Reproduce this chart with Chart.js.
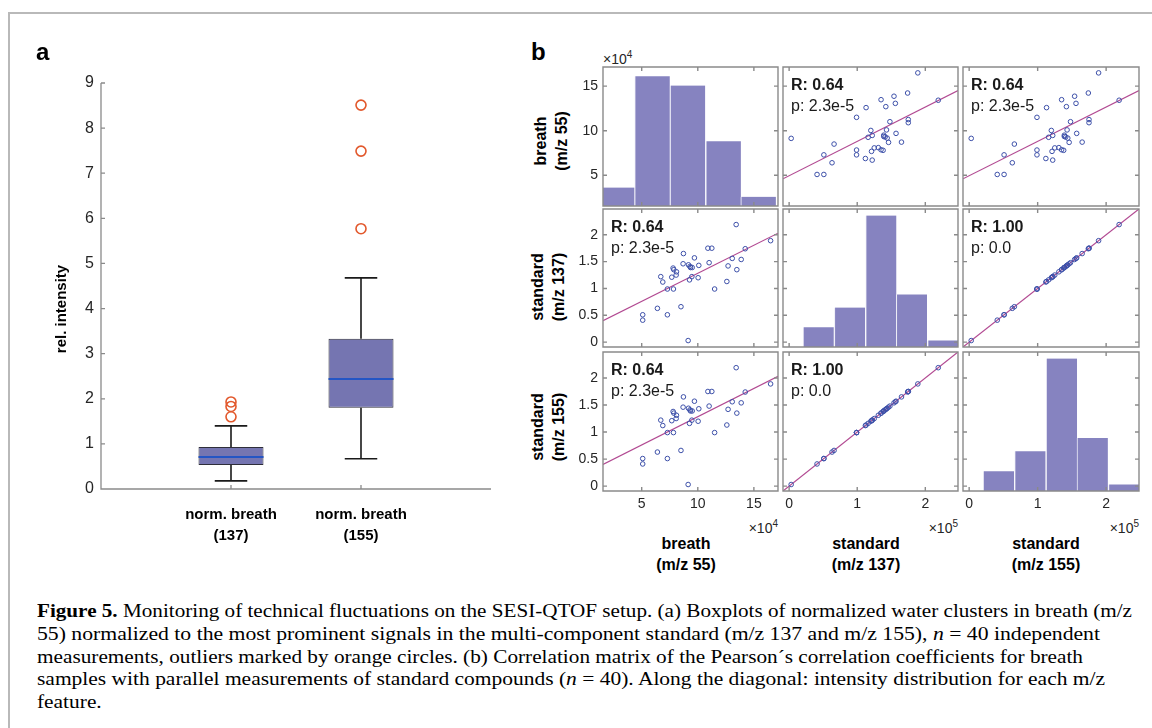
<!DOCTYPE html>
<html>
<head>
<meta charset="utf-8">
<title>Figure 5</title>
<script src="https://cdn.jsdelivr.net/npm/chart.js@4.4.1/dist/chart.umd.min.js"></script>
<style>
  body { margin: 0; background: #fff; font-family: "Liberation Sans", Arial, sans-serif; }
  #page { position: relative; width: 1152px; height: 728px; overflow: hidden; background: #fff; }
  #border { position: absolute; left: 8px; top: 12px; width: 1300px; height: 900px; border: 2px solid #b9b9b9; }
  canvas { position: absolute; }
  .lbl { position: absolute; font-weight: bold; color: #000; white-space: nowrap; }
  .panel { font-size: 24px; line-height: 24px; }
  .ytitle { font-size: 16px; line-height: 21px; text-align: center; transform: translate(-50%, -50%) rotate(-90deg); }
  .xtitle { font-size: 16px; line-height: 21px; text-align: center; transform: translateX(-50%); }
  .exp { position: absolute; font-size: 14px; line-height: 14px; color: #262626; white-space: nowrap; }
  .exp sup { font-size: 10px; vertical-align: 6px; line-height: 0; }
  .cap { position: absolute; left: 37px; font-family: "Liberation Serif", "Times New Roman", serif; font-size: 18.5px; line-height: 18px; color: #000; white-space: nowrap; transform-origin: 0 0; }
</style>
</head>
<body>
<div id="page">
  <div id="border"></div>
  <canvas id="boxCanvas" width="520" height="570" style="left:0;top:0"></canvas>

  <div class="lbl panel" style="left:36px;top:40px">a</div>
  <div class="lbl panel" style="left:531px;top:40px">b</div>
  <div class="lbl ytitle" style="left:60px;top:309px;font-size:15px">rel. intensity</div>

  <div class="lbl ytitle" style="left:551px;top:141px">breath<br>(m/z 55)</div>
  <div class="lbl ytitle" style="left:548px;top:287px">standard<br>(m/z 137)</div>
  <div class="lbl ytitle" style="left:548px;top:427px">standard<br>(m/z 155)</div>
  <div class="lbl xtitle" style="left:686px;top:533px">breath<br>(m/z 55)</div>
  <div class="lbl xtitle" style="left:866px;top:533px">standard<br>(m/z 137)</div>
  <div class="lbl xtitle" style="left:1046px;top:533px">standard<br>(m/z 155)</div>

  <div class="exp" style="left:603px;top:52px">×10<sup>4</sup></div>
  <div class="exp" style="right:374px;top:521px">×10<sup>4</sup></div>
  <div class="exp" style="right:194px;top:521px">×10<sup>5</sup></div>
  <div class="exp" style="right:13px;top:521px">×10<sup>5</sup></div>

  <div class="cap" style="top:602px" data-w="1095"><b>Figure 5.</b> Monitoring of technical fluctuations on the SESI-QTOF setup. (a) Boxplots of normalized water clusters in breath (m/z</div>
  <div class="cap" style="top:625px" data-w="1063">55) normalized to the most prominent signals in the multi-component standard (m/z 137 and m/z 155), <i>n</i> = 40 independent</div>
  <div class="cap" style="top:648px" data-w="1046">measurements, outliers marked by orange circles. (b) Correlation matrix of the Pearson´s correlation coefficients for breath</div>
  <div class="cap" style="top:670px" data-w="1068">samples with parallel measurements of standard compounds (<i>n</i> = 40). Along the diagonal: intensity distribution for each m/z</div>
  <div class="cap" style="top:693px">feature.</div>
</div>

<script>
// ---- panel a: boxplots ----
const boxCats = [['norm. breath', '(137)'], ['norm. breath', '(155)']];
const boxPos = [1, 2];
const boxLow = [0.18, 0.67];
const boxQ1 = [0.53, 1.80];
const boxMed = [0.71, 2.44];
const boxQ3 = [0.93, 3.33];
const boxHigh = [1.40, 4.68];
const outliers137 = [1.60, 1.83, 1.93];
const outliers155 = [5.77, 7.49, 8.51];
const boxTicks = [0, 1, 2, 3, 4, 5, 6, 7, 8, 9];

// ---- panel b: scatter matrix ----
// breath (m/z 55) in 1e4, standard (m/z 137 / 155) in 1e5
const breath = [5.09, 5.09, 6.4, 7.29, 6.7, 6.88, 7.29, 7.68, 7.8, 7.86, 7.83, 8.07, 8.1, 8.5, 8.69, 8.72, 9.14, 9.17, 9.3,
  9.35, 9.5, 9.26, 9.47, 9.7, 10.03, 10.09, 10.9, 11.25, 11.01, 11.5, 12.59, 12.7, 13.07, 13.42, 13.48, 13.87, 14.23, 16.49];
const std137 = [0.51, 0.41, 0.63, 0.51, 1.22, 1.12, 0.99, 1.21, 1.38, 1.35, 0.99, 1.25, 1.31, 0.66, 1.46, 1.65, 0.03, 1.44, 1.41,
  1.39, 1.39, 1.16, 1.22, 1.57, 1.2, 1.43, 1.75, 1.75, 1.48, 0.99, 1.13, 1.42, 1.56, 2.19, 1.35, 1.54, 1.74, 1.89];
const std155 = [0.51, 0.41, 0.63, 0.51, 1.22, 1.12, 0.99, 1.21, 1.38, 1.35, 0.99, 1.25, 1.31, 0.66, 1.46, 1.65, 0.03, 1.44, 1.41,
  1.39, 1.39, 1.16, 1.22, 1.57, 1.2, 1.43, 1.75, 1.75, 1.48, 0.99, 1.13, 1.42, 1.56, 2.19, 1.35, 1.54, 1.74, 1.89];

const breathRange = [1.55, 17.15];
const stdRange = [-0.09, 2.48];
const breathTicks = [5, 10, 15];
const stdXTicks = [0, 1, 2];
const stdYTicks = [0, 0.5, 1, 1.5, 2];

// histograms on the diagonal (bin centres, counts)
const breathBins = [2.8, 5.94, 9.1, 12.28, 15.4];
const breathCounts = [2, 14, 13, 7, 1];
const stdBins = [0.43, 0.89, 1.35, 1.80, 2.26];
const std137Counts = [3, 6, 20, 8, 1];
const std155Counts = [3, 6, 20, 8, 1];
const histMax = [15, 21, 21];

// least-squares lines, end points
const fitBreathOnStd = [[-0.09, 4.6], [2.48, 14.5]];
const fitStdOnBreath = [[1.55, 0.40], [17.15, 2.03]];
const fitStdOnStd = [[-0.09, -0.09], [2.48, 2.48]];

const corrR = [['', 'R: 0.64', 'R: 0.64'], ['R: 0.64', '', 'R: 1.00'], ['R: 0.64', 'R: 1.00', '']];
const corrP = [['', 'p: 2.3e-5', 'p: 2.3e-5'], ['p: 2.3e-5', '', 'p: 0.0'], ['p: 2.3e-5', 'p: 0.0', '']];

// layout of the 3x3 grid (px)
const colLeft = [603, 783, 963];
const colW = [175, 175, 176];
const rowTop = [67, 209, 352];
const rowH = [139, 138, 139];

const FONT = "'Liberation Sans', Arial, sans-serif";
Chart.defaults.font.family = FONT;
Chart.defaults.color = '#262626';

const boxFill = '#7575b1';
const histFill = '#8683c0';
const dotColor = '#3c4fa8';
const fitColor = '#b24a92';
const axisGrey = '#8a8a8a';

// frame + inward tick marks, matlab style
const frameTicks = {
  id: 'frameTicks',
  afterDraw(chart, args, o) {
    const { ctx, chartArea: a, scales } = chart;
    const len = o.len || 4;
    ctx.save();
    ctx.strokeStyle = o.color;
    ctx.lineWidth = o.width;
    ctx.beginPath();
    scales.x.ticks.forEach(t => {
      const px = scales.x.getPixelForValue(t.value);
      ctx.moveTo(px, a.bottom); ctx.lineTo(px, a.bottom - len);
      if (o.box) { ctx.moveTo(px, a.top); ctx.lineTo(px, a.top + len); }
    });
    scales.y.ticks.forEach(t => {
      const py = scales.y.getPixelForValue(t.value);
      ctx.moveTo(a.left, py); ctx.lineTo(a.left + len, py);
      if (o.box) { ctx.moveTo(a.right, py); ctx.lineTo(a.right - len, py); }
    });
    if (o.box) {
      ctx.rect(a.left, a.top, a.right - a.left, a.bottom - a.top);
    } else {
      ctx.moveTo(a.left, a.top); ctx.lineTo(a.left, a.bottom); ctx.lineTo(a.right, a.bottom);
    }
    ctx.stroke();
    ctx.restore();
  }
};

const corrText = {
  id: 'corrText',
  afterDraw(chart, args, o) {
    if (!o.r) return;
    const { ctx, chartArea: a } = chart;
    ctx.save();
    ctx.fillStyle = '#1a1a1a';
    ctx.textBaseline = 'alphabetic';
    ctx.font = 'bold 16px ' + FONT;
    ctx.fillText(o.r, a.left + 8, a.top + 23);
    ctx.font = '16px ' + FONT;
    ctx.fillText(o.p, a.left + 8, a.top + 44);
    ctx.restore();
  }
};

// keep the scale boxes exactly the size we ask for
function fixSize(prop, size) {
  return s => {
    s[prop] = size;
    s.paddingTop = 0; s.paddingBottom = 0; s.paddingLeft = 0; s.paddingRight = 0;
  };
}

// ---------- panel a ----------
function drawBoxplot() {
  const capHalf = 0.125, boxHalf = 0.25;
  const whiskers = [], caps = [], medians = [];
  boxPos.forEach((p, i) => {
    whiskers.push({ x: p, y: boxLow[i] }, { x: p, y: boxQ1[i] }, { x: p, y: null },
                  { x: p, y: boxQ3[i] }, { x: p, y: boxHigh[i] }, { x: p, y: null });
    caps.push({ x: p - capHalf, y: boxLow[i] }, { x: p + capHalf, y: boxLow[i] }, { x: p, y: null },
              { x: p - capHalf, y: boxHigh[i] }, { x: p + capHalf, y: boxHigh[i] }, { x: p, y: null });
    medians.push({ x: p - boxHalf, y: boxMed[i] }, { x: p + boxHalf, y: boxMed[i] }, { x: p, y: null });
  });
  const outl = outliers137.map(v => ({ x: boxPos[0], y: v }))
    .concat(outliers155.map(v => ({ x: boxPos[1], y: v })));

  new Chart(document.getElementById('boxCanvas'), {
    type: 'bar',
    data: {
      datasets: [
        { label: 'box', data: boxPos.map((p, i) => ({ x: p, y: [boxQ1[i], boxQ3[i]] })),
          backgroundColor: boxFill, borderColor: '#2e2e3a', borderWidth: 1, borderSkipped: false,
          barPercentage: 0.5, categoryPercentage: 1, order: 5 },
        { type: 'line', label: 'whiskers', data: whiskers, borderColor: '#1a1a1a', borderWidth: 1.6,
          pointRadius: 0, spanGaps: false, order: 4 },
        { type: 'line', label: 'caps', data: caps, borderColor: '#1a1a1a', borderWidth: 1.6,
          pointRadius: 0, spanGaps: false, order: 3 },
        { type: 'line', label: 'median', data: medians, borderColor: '#2455c4', borderWidth: 2,
          pointRadius: 0, spanGaps: false, order: 1 },
        { type: 'scatter', label: 'outliers', data: outl, pointRadius: 5, pointBorderWidth: 1.6,
          borderColor: '#e2582c', backgroundColor: 'rgba(0,0,0,0)', order: 0 }
      ]
    },
    options: {
      responsive: false, devicePixelRatio: 1, animation: false,
      layout: { padding: { top: 83, right: 29, left: 0, bottom: 0 } },
      plugins: { legend: { display: false }, tooltip: { enabled: false },
        frameTicks: { box: false, color: axisGrey, width: 1.3, len: 4 } },
      scales: {
        x: {
          type: 'linear', min: 0, max: 3, offset: false,
          grid: { display: false, drawTicks: false }, border: { display: false },
          afterBuildTicks: s => { s.ticks = boxPos.map(v => ({ value: v })); },
          afterFit: fixSize('height', 81),
          ticks: { padding: 16, color: '#000', maxRotation: 0, autoSkip: false,
            font: { size: 15, weight: 'bold', lineHeight: 1.35 },
            callback: (v, i) => boxCats[i] }
        },
        y: {
          type: 'linear', min: 0, max: 9,
          grid: { display: false, drawTicks: false }, border: { display: false },
          afterBuildTicks: s => { s.ticks = boxTicks.map(v => ({ value: v })); },
          afterFit: fixSize('width', 101),
          ticks: { padding: 7, font: { size: 16 }, callback: v => String(v) }
        }
      }
    },
    plugins: [frameTicks]
  });
}

// ---------- panel b ----------
function drawMatrix() {
  const page = document.getElementById('page');
  const vars = [breath, std137, std155];
  const ranges = [breathRange, stdRange, stdRange];
  const xTickSets = [breathTicks, stdXTicks, stdXTicks];
  const yTickSets = [breathTicks, stdYTicks, stdYTicks];
  const histBins = [breathBins, stdBins, stdBins];
  const histCounts = [breathCounts, std137Counts, std155Counts];

  for (let r = 0; r < 3; r++) {
    for (let c = 0; c < 3; c++) {
      const cv = document.createElement('canvas');
      cv.width = colW[c] + 56;
      cv.height = rowH[r] + 46;
      cv.style.left = (colLeft[c] - 50) + 'px';
      cv.style.top = (rowTop[r] - 6) + 'px';
      page.appendChild(cv);

      const xScale = {
        type: 'linear', min: ranges[c][0], max: ranges[c][1], offset: false,
        grid: { display: false, drawTicks: false }, border: { display: false },
        afterBuildTicks: s => { s.ticks = xTickSets[c].map(v => ({ value: v })); },
        afterFit: fixSize('height', 40),
        ticks: { display: r === 2, padding: 5, maxRotation: 0, autoSkip: false, font: { size: 14 },
          callback: v => String(v) }
      };
      const yScale = {
        type: 'linear', min: ranges[r][0], max: ranges[r][1],
        grid: { display: false, drawTicks: false }, border: { display: false },
        afterBuildTicks: s => { s.ticks = yTickSets[r].map(v => ({ value: v })); },
        afterFit: fixSize('width', 50),
        ticks: { display: c === 0, padding: 5, autoSkip: false, font: { size: 14 },
          callback: v => String(v) }
      };
      const common = {
        responsive: false, devicePixelRatio: 1, animation: false,
        layout: { padding: { top: 6, right: 6, left: 0, bottom: 0 } },
        plugins: { legend: { display: false }, tooltip: { enabled: false },
          frameTicks: { box: true, color: axisGrey, width: 1.4, len: 4 },
          corrText: { r: corrR[r][c], p: corrP[r][c] } }
      };

      let cfg;
      if (r === c) {
        cfg = {
          type: 'bar',
          data: { datasets: [{
            data: histBins[c].map((x, i) => ({ x: x, y: histCounts[c][i] })),
            yAxisID: 'yc', backgroundColor: histFill, borderColor: '#eeeef7',
            borderWidth: { left: 1, right: 0, top: 0, bottom: 0 }, borderSkipped: false,
            barPercentage: 1, categoryPercentage: 1, clip: 0
          }] },
          options: Object.assign({}, common, { scales: {
            x: xScale, y: yScale,
            yc: { type: 'linear', display: false, min: 0, max: histMax[c] }
          } })
        };
      } else {
        const fit = r === 0 ? fitBreathOnStd : (c === 0 ? fitStdOnBreath : fitStdOnStd);
        cfg = {
          type: 'scatter',
          data: { datasets: [
            { data: vars[c].map((v, i) => ({ x: v, y: vars[r][i] })), pointRadius: 2.3,
              pointBorderWidth: 1, borderColor: dotColor, backgroundColor: 'rgba(0,0,0,0)', order: 0 },
            { type: 'line', data: fit.map(p => ({ x: p[0], y: p[1] })), borderColor: fitColor,
              borderWidth: 1.2, pointRadius: 0, showLine: true, order: 1, clip: 0 }
          ] },
          options: Object.assign({}, common, { scales: { x: xScale, y: yScale } })
        };
      }
      cfg.plugins = [frameTicks, corrText];
      new Chart(cv, cfg);
    }
  }
}

// squeeze caption lines to the widths of the printed figure
function fitCaption() {
  const lines = Array.from(document.querySelectorAll('.cap'));
  const scales = [];
  lines.forEach(el => {
    if (!el.dataset.w) return;
    const s = (+el.dataset.w) / el.getBoundingClientRect().width;
    scales.push(s);
    el.style.transform = 'scaleX(' + s + ')';
  });
  const avg = scales.reduce((a, b) => a + b, 0) / scales.length;
  lines.forEach(el => { if (!el.dataset.w) el.style.transform = 'scaleX(' + avg + ')'; });
}

drawBoxplot();
drawMatrix();
fitCaption();
</script>
</body>
</html>
